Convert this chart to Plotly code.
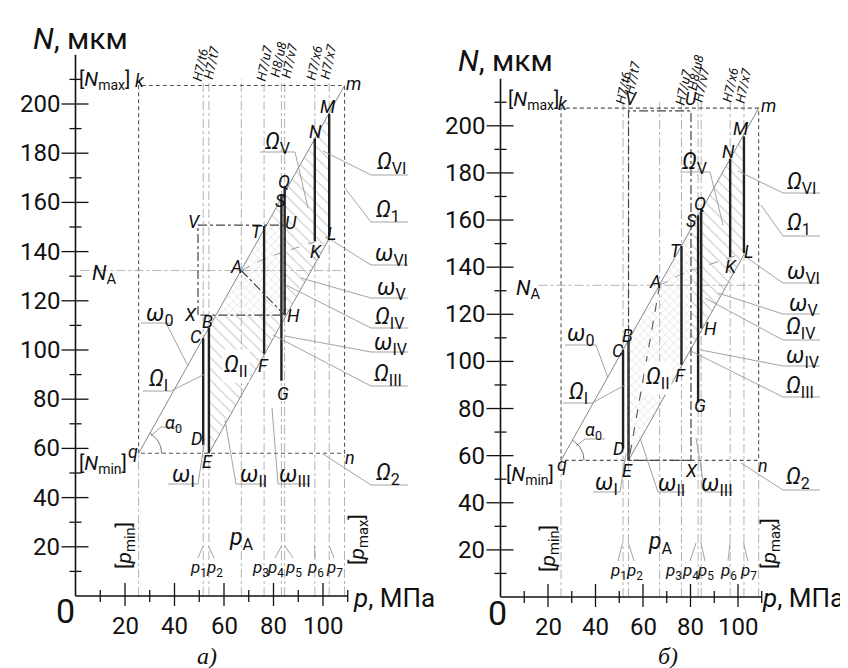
import plotly.graph_objects as go
import numpy as np

# ---------------- data ----------------
N_MAX, N_MIN = 207.5, 58.0          # [Nmax], [Nmin], мкм
P_MIN, P_MAX = 25.5, 108.7          # [pmin], [pmax], МПа
N_A, P_A = 132.3, 67.0
fit_names = ["H7/t6", "H7/t7", "H7/u7", "H8/u8", "H7/v7", "H7/x6", "H7/x7"]
p_fit = [51.6, 53.9, 76.2, 83.2, 84.5, 96.7, 102.5]          # p1..p7
seg_top_a = [104.8, 109.0, 150.4, 163.0, 166.0, 186.0, 196.0]  # C B T S Q N M
seg_bot_a = [61.4, 58.0, 98.5, 87.5, 114.2, 144.3, 146.3]     # D E F G H K L
seg_top_b = [105.0, 108.7, 149.0, 162.0, 164.5, 186.0, 195.5]
seg_bot_b = [63.0, 58.0, 98.5, 82.5, 114.0, 144.3, 146.0]
rect_a_p = [49.5, 84.5]
rect_a_N = [114.2, 150.8]
rect_b_p = [53.9, 80.2]
rect_b_N = [58.0, 206.3]
curve_p = [67.0, 75.0, 82.0, 90.0, 96.7, 102.5]
curve_N = [132.3, 136.5, 139.2, 141.8, 144.0, 146.2]
x_major = [20, 40, 60, 80, 100]
x_minor = [10, 30, 50, 70, 90, 110]
y_major = [20, 40, 60, 80, 100, 120, 140, 160, 180, 200]
y_minor = [10, 30, 50, 70, 90, 110, 130, 150, 170, 190, 210]

FONT = "Liberation Sans Narrow, Arial Narrow, Roboto, sans-serif"
INK = "#111"

CAL = {'a': dict(x0=67.5, kx=2.475, y0=588.0, ky=2.46, xa='x', ya='y'),
       'b': dict(x0=492.5, kx=2.375, y0=589.0, ky=2.356, xa='x2', ya='y2')}

fig = go.Figure()


def to_data(pan, px, py):
    c = CAL[pan]
    return (px - c['x0']) / c['kx'], (c['y0'] - py) / c['ky']


def line(pan, xs, ys, color, width, dash='solid'):
    c = CAL[pan]
    fig.add_trace(go.Scatter(x=xs, y=ys, mode='lines',
                             line=dict(color=color, width=width, dash=dash),
                             xaxis=c['xa'], yaxis=c['ya'], hoverinfo='skip',
                             showlegend=False))


def pline(pan, pts, color='#999', width=0.9, dash='solid'):
    xs, ys = [], []
    for px, py in pts:
        x, y = to_data(pan, px, py)
        xs.append(x)
        ys.append(y)
    line(pan, xs, ys, color, width, dash)


def hatch(pan, xs, ys, shape, size, fg, sol=0.12):
    c = CAL[pan]
    fig.add_trace(go.Scatter(x=list(xs) + [xs[0]], y=list(ys) + [ys[0]], mode='lines',
                             fill='toself', fillcolor='rgba(255,255,255,0)',
                             line=dict(width=0, color='rgba(0,0,0,0)'),
                             fillpattern=dict(shape=shape, size=size, solidity=sol,
                                              fgcolor=fg, bgcolor='rgba(255,255,255,0)'),
                             xaxis=c['xa'], yaxis=c['ya'], hoverinfo='skip',
                             showlegend=False))


def text(pan, px, py, t, size, angle=0, family=FONT, xanchor='center', bg=None):
    c = CAL[pan]
    x, y = to_data(pan, px, py)
    kw = {}
    if bg:
        kw['bgcolor'] = bg
    fig.add_annotation(x=x, y=y, xref=c['xa'], yref=c['ya'], text=t, showarrow=False,
                       font=dict(size=size, family=family, color=INK), textangle=angle,
                       xanchor=xanchor, yanchor='middle', **kw)


def text_d(pan, x, y, t, size, angle=0, xanchor='center'):
    c = CAL[pan]
    fig.add_annotation(x=x, y=y, xref=c['xa'], yref=c['ya'], text=t, showarrow=False,
                       font=dict(size=size, family=FONT, color=INK), textangle=angle,
                       xanchor=xanchor, yanchor='middle')


slope = (N_MAX - N_MIN) / (P_MAX - P_MIN)


def up(p):
    return N_MIN + slope * (p - P_MIN)


def lo(p):
    return N_MIN + slope * (p - p_fit[1])


def draw_axes(pan):
    c = CAL[pan]
    line(pan, [0, 110], [0, 0], INK, 1.6)
    line(pan, [0, 0], [0, 220], INK, 1.6)
    xs, ys = [], []
    for v in x_major:
        xs += [v, v, None]
        ys += [-10 / c['ky'], 13 / c['ky'], None]
    for v in x_minor:
        xs += [v, v, None]
        ys += [-6 / c['ky'], 6 / c['ky'], None]
    for v in y_major:
        xs += [-14 / c['kx'], 13 / c['kx'], None]
        ys += [v, v, None]
    for v in y_minor:
        xs += [-6 / c['kx'], 6 / c['kx'], None]
        ys += [v, v, None]
    line(pan, xs, ys, INK, 1.3)
    for v in x_major:
        text_d(pan, v, -30 / c['ky'], str(v), 24)
    for v in y_major:
        text_d(pan, -14 / c['kx'], v, str(v), 24, xanchor='right')


def draw_common(pan, top, bot):
    xs, ys = [], []
    for p in p_fit + [P_A]:
        xs += [p, p, None]
        ys += [0, 210, None]
    for p in [P_MIN, P_MAX]:
        xs += [p, p, None]
        ys += [0, N_MIN, None]
    line(pan, xs, ys, '#aaa', 0.9, 'dashdot')
    line(pan, [P_MIN, P_MIN, P_MAX, P_MAX, P_MIN], [N_MIN, N_MAX, N_MAX, N_MIN, N_MIN],
         '#555', 1.1, '4px,3px')
    line(pan, [2 if pan == 'a' else 16, P_MAX], [N_A, N_A], '#aaa', 0.9, 'dashdot')
    line(pan, [P_MIN, P_MAX], [up(P_MIN), up(P_MAX)], '#888', 1.0)
    line(pan, [p_fit[1], p_fit[6]], [lo(p_fit[1]), lo(p_fit[6])], '#888', 1.0)
    line(pan, curve_p, curve_N, '#999', 1.0, 'dash')
    xs, ys = [], []
    for p, t, b in zip(p_fit, top, bot):
        xs += [p, p, None]
        ys += [b, t, None]
    line(pan, xs, ys, '#222', 2.4)


# ---------------- panel a ----------------
pH = rect_a_p[1]
pX = P_MIN + (rect_a_N[0] - N_MIN) / slope
pT = P_MIN + (rect_a_N[1] - N_MIN) / slope
hatch('a', [p_fit[1], p_fit[1], pH, pH, pX],
      [up(p_fit[1]), N_MIN, lo(pH), rect_a_N[0], rect_a_N[0]], '\\', 8, '#888')
hatch('a', [pX, pH, pH, pT], [rect_a_N[0], rect_a_N[0], rect_a_N[1], rect_a_N[1]], 'x', 6, '#888')
hatch('a', [pT, pH, pH], [rect_a_N[1], rect_a_N[1], up(pH)], '\\', 8, '#999')
hatch('a', [pH, p_fit[6], p_fit[6], pH], [up(pH), up(p_fit[6]), lo(p_fit[6]), lo(pH)], '\\', 8, '#888')
draw_common('a', seg_top_a, seg_bot_a)
line('a', [rect_a_p[0], rect_a_p[0], rect_a_p[1], rect_a_p[1], rect_a_p[0]],
     [rect_a_N[0], rect_a_N[1], rect_a_N[1], rect_a_N[0], rect_a_N[0]], '#444', 1.2, 'dashdot')
line('a', [P_A, rect_a_p[1]], [N_A, rect_a_N[0]], '#444', 1.2, 'dashdot')
draw_axes('a')

# ---------------- panel b ----------------
pR = rect_b_p[1]
hatch('b', [p_fit[1], p_fit[1], pR, pR], [up(p_fit[1]), N_MIN, lo(pR), up(pR)], 'x', 6, '#888')
hatch('b', [pR, p_fit[6], p_fit[6], pR], [up(pR), up(p_fit[6]), lo(p_fit[6]), lo(pR)], '\\', 8, '#888')
draw_common('b', seg_top_b, seg_bot_b)
line('b', [rect_b_p[0], rect_b_p[0], rect_b_p[1], rect_b_p[1], rect_b_p[0]],
     [rect_b_N[0], rect_b_N[1], rect_b_N[1], rect_b_N[0], rect_b_N[0]], '#444', 1.2, 'dashdot')
line('b', [P_A, p_fit[1] + 0.5], [N_A, 60.0], '#555', 1.1, 'dash')
draw_axes('b')

# ---------------- leaders, arcs ----------------
LEAD_A = [
    ((363, 167), (400, 167), (315, 143)),
    ((363, 214), (400, 214), (337, 180)),
    ((363, 257), (400, 257), (320, 230)),
    ((363, 290), (400, 290), (293, 270)),
    ((363, 320), (400, 320), (278, 277)),
    ((363, 344), (400, 344), (277, 328)),
    ((363, 378), (400, 378), (265, 327)),
    ((363, 477), (400, 477), (315, 446)),
]
for l, r, t in LEAD_A:
    pline('a', [r, l, t])
for pts in [[(133, 315), (165, 315)], [(158, 315), (180, 358)],
            [(135, 383), (163, 383), (197, 366)],
            [(173, 419), (153, 419), (143, 428)],
            [(160, 476), (190, 476), (197, 430)],
            [(258, 476), (228, 476), (217, 412)],
            [(302, 476), (270, 476), (264, 400)],
            [(252, 144), (287, 144), (300, 200)],
            [(190, 550), (195, 538)], [(206, 550), (200.5, 538)],
            [(267, 550), (273.5, 538)], [(285, 550), (277, 538)],
            [(307, 550), (306.5, 538)], [(326, 550), (321.5, 538)]]:
    pline('a', pts)

LEAD_B = [
    ((775, 185), (812, 185), (730, 163)),
    ((775, 228), (812, 228), (753, 197)),
    ((775, 275), (812, 275), (735, 247)),
    ((775, 306), (812, 306), (710, 285)),
    ((775, 332), (812, 332), (697, 290)),
    ((775, 358), (812, 358), (693, 342)),
    ((775, 389), (812, 389), (683, 343)),
    ((775, 482), (812, 482), (733, 455)),
]
for l, r, t in LEAD_B:
    pline('b', [r, l, t])
for pts in [[(557, 337), (588, 337), (600, 370)],
            [(555, 395), (584, 395), (617, 377)],
            [(597, 431), (577, 431), (568, 438)],
            [(585, 484), (612, 484), (618, 445)],
            [(677, 484), (650, 484), (632, 430)],
            [(725, 484), (697, 484), (688, 430)],
            [(672, 164), (702, 164), (715, 217)],
            [(610, 553), (614.5, 535)], [(626, 553), (620.5, 535)],
            [(682, 553), (688, 535)], [(697, 553), (693, 535)],
            [(720, 553), (722, 535)], [(740, 553), (735.5, 535)]]:
    pline('b', pts)

for pan in ['a', 'b']:
    c = CAL[pan]
    cx = c['x0'] + c['kx'] * P_MIN
    cy = c['y0'] - c['ky'] * N_MIN
    ang_top = np.arctan(slope * c['ky'] / c['kx'])
    th = np.linspace(0, ang_top, 20)
    pline(pan, list(zip(cx + 23 * np.cos(th), cy - 23 * np.sin(th))), '#666', 0.9)

# ---------------- texts ----------------
I = lambda s: "<i>%s</i>" % s


def letters(pan, items, size=18):
    for t, px, py in items:
        text(pan, px, py, I(t), size)


letters('a', [("k", 132, 72), ("m", 345, 75), ("q", 125, 443), ("n", 342, 449), ("E", 199, 453),
              ("C", 188, 328), ("B", 199, 313), ("D", 188, 430), ("X", 182, 306), ("H", 285, 307),
              ("F", 255, 357), ("G", 275, 385), ("A", 228, 258), ("T", 249, 223), ("U", 283, 214),
              ("V", 186, 213), ("S", 272, 192), ("Q", 276, 173), ("K", 308, 243), ("L", 323, 225),
              ("N", 307, 123), ("M", 320, 98)])
letters('b', [("k", 555, 95), ("m", 760, 97), ("q", 554, 456), ("n", 755, 457), ("E", 619, 462),
              ("X", 683, 462), ("C", 610, 342), ("B", 619, 327), ("D", 610, 440), ("H", 702, 320),
              ("F", 672, 367), ("G", 692, 397), ("A", 647, 273), ("T", 668, 242), ("U", 683, 90),
              ("V", 623, 90), ("S", 683, 212), ("Q", 692, 195), ("K", 723, 258), ("L", 740, 243),
              ("N", 720, 143), ("M", 733, 120)])

GREEK_A = [("Ω", "V", 270, 135), ("Ω", "VI", 383, 155), ("Ω", "1", 380, 203), ("ω", "VI", 383, 247),
           ("ω", "V", 383, 281), ("Ω", "IV", 382, 310), ("ω", "IV", 383, 336), ("Ω", "III", 380, 367),
           ("Ω", "2", 380, 466), ("ω", "I", 175, 468), ("ω", "II", 245, 468), ("ω", "III", 287, 468),
           ("ω", "0", 151, 307), ("Ω", "I", 150, 372)]
GREEK_B = [("Ω", "V", 687, 155), ("Ω", "VI", 793, 175), ("Ω", "1", 791, 216), ("ω", "VI", 795, 265),
           ("ω", "V", 795, 297), ("Ω", "IV", 793, 320), ("ω", "IV", 795, 349), ("Ω", "III", 792, 379),
           ("Ω", "2", 790, 470), ("ω", "I", 598, 476), ("ω", "II", 663, 477), ("ω", "III", 709, 477),
           ("ω", "0", 572, 327), ("Ω", "I", 570, 385)]
for pan, lst in [('a', GREEK_A), ('b', GREEK_B)]:
    for g, s, px, py in lst:
        text(pan, px, py, "%s<sub>%s</sub>" % (I(g), s), 23)
text('a', 228, 358, I("Ω") + "<sub>II</sub>", 23, bg='white')
text('b', 650, 370, I("Ω") + "<sub>II</sub>", 23, bg='white')
text('a', 165, 416, I("α") + "<sub>0</sub>", 18)
text('b', 585, 423, I("α") + "<sub>0</sub>", 18)

for pan, nx, ny, mx, my, ax, ay, tx, ty, zx, zy, px_, py_ in [
        ('a', 96, 72, 95, 456, 96, 266, 72, 30, 57, 603, 386, 590),
        ('b', 525, 92, 522, 467, 520, 281, 497, 52, 489, 605, 795, 590)]:
    text(pan, nx, ny, "[%s<sub>max</sub>]" % I("N"), 20)
    text(pan, mx, my, "[%s<sub>min</sub>]" % I("N"), 20)
    text(pan, ax, ay, I("N") + "<sub>A</sub>", 21)
    text(pan, tx, ty, I("N") + ", мкм", 30)
    text(pan, zx, zy, "0", 34)
    text(pan, px_, py_, I("p") + ", МПа", 26)

SERIF = "Liberation Serif, Times New Roman, serif"
fig.add_annotation(x=0.235, y=0.008, xref='paper', yref='paper', text=I("а)"), showarrow=False,
                   font=dict(size=24, family=SERIF, color=INK), xanchor='center', yanchor='bottom')
fig.add_annotation(x=0.778, y=0.008, xref='paper', yref='paper', text=I("б)"), showarrow=False,
                   font=dict(size=24, family=SERIF, color=INK), xanchor='center', yanchor='bottom')

PLAB_A = [(190, 560), (206, 560), (252, 560), (267, 560), (285, 560), (307, 560), (326, 560)]
PLAB_B = [(610, 563), (626, 563), (665, 563), (682, 563), (697, 563), (720, 563), (740, 563)]
for pan, lst in [('a', PLAB_A), ('b', PLAB_B)]:
    for i, (px, py) in enumerate(lst):
        text(pan, px, py, I("p") + "<sub>%d</sub>" % (i + 1), 17)
text('a', 233, 531, I("p") + "<sub>A</sub>", 23)
text('b', 652, 535, I("p") + "<sub>A</sub>", 23)
text('a', 117, 538, "[%s<sub>min</sub>]" % I("p"), 21, angle=-90)
text('a', 350, 532, "[%s<sub>max</sub>]" % I("p"), 21, angle=-90)
text('b', 541, 541, "[%s<sub>min</sub>]" % I("p"), 21, angle=-90)
text('b', 762, 536, "[%s<sub>max</sub>]" % I("p"), 21, angle=-90)

FIT_A = [(192, 57), (203, 55), (256, 55), (270, 52), (281, 53), (306, 55), (320, 53)]
FIT_B = [(615, 80), (624, 70), (675, 79), (687, 65), (693, 77), (722, 77), (735, 77)]
for pan, lst in [('a', FIT_A), ('b', FIT_B)]:
    for name, (px, py) in zip(fit_names, lst):
        text(pan, px, py, I(name), 13, angle=-78)

ca, cb = CAL['a'], CAL['b']
fig.update_layout(
    width=848, height=668, margin=dict(l=0, r=0, t=0, b=0),
    paper_bgcolor='white', plot_bgcolor='white', showlegend=False,
    xaxis=dict(domain=[0, 0.5], range=[(0 - ca['x0']) / ca['kx'], (424 - ca['x0']) / ca['kx']],
               visible=False, fixedrange=True),
    yaxis=dict(domain=[0, 1], range=[(ca['y0'] - 668) / ca['ky'], ca['y0'] / ca['ky']],
               visible=False, fixedrange=True),
    xaxis2=dict(domain=[0.5, 1], range=[(424 - cb['x0']) / cb['kx'], (848 - cb['x0']) / cb['kx']],
                visible=False, fixedrange=True, anchor='y2'),
    yaxis2=dict(domain=[0, 1], range=[(cb['y0'] - 668) / cb['ky'], cb['y0'] / cb['ky']],
                visible=False, fixedrange=True, anchor='x2'),
)
fig.write_html("out.html")
